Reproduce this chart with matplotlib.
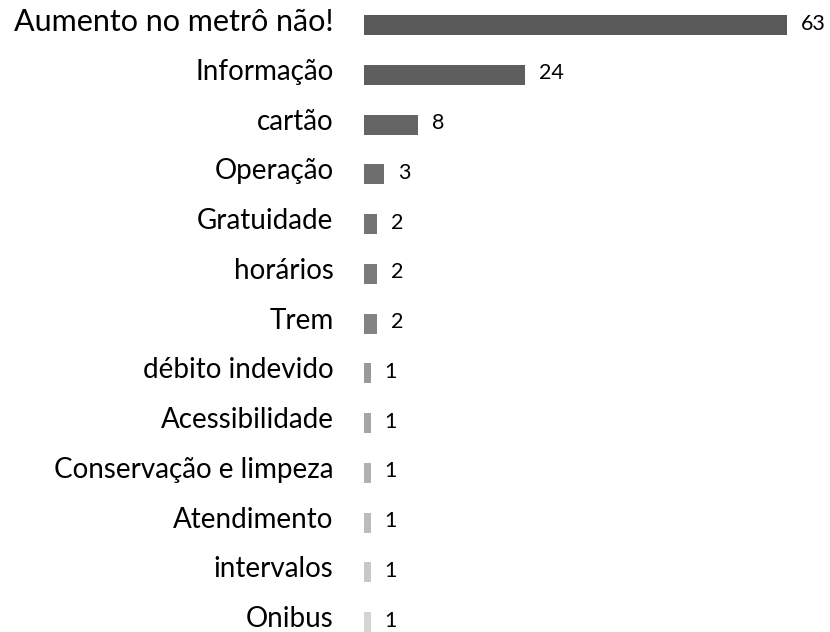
import matplotlib
matplotlib.use("Agg")
import matplotlib.pyplot as plt
from matplotlib.transforms import ScaledTranslation

categories = ["Aumento no metrô não!", "Informação", "cartão", "Operação",
              "Gratuidade", "horários", "Trem", "débito indevido",
              "Acessibilidade", "Conservação e limpeza", "Atendimento",
              "intervalos", "Onibus"]
counts = [63, 24, 8, 3, 2, 2, 2, 1, 1, 1, 1, 1, 1]
colors = ["#595959", "#5e5e5e", "#656565", "#6e6e6e", "#747474", "#7b7b7b",
          "#838383", "#999999", "#a5a5a5", "#b0b0b0", "#bcbcbc", "#c8c8c8",
          "#d4d4d4"]

plt.rcParams['font.family'] = ['Lato', 'DejaVu Sans']

fig = plt.figure(figsize=(8.3, 6.32), dpi=100)
W, H = 830, 632
row = 49.75
top_px = 25 - 0.3 * row
bot_px = 622 + 0.3 * row
ax = fig.add_axes([364 / W, 1 - bot_px / H, (W - 364) / W, (bot_px - top_px) / H])

ypos = list(range(len(categories)))
ax.barh(ypos, counts, height=20 / row, color=colors)
ax.set_ylim(12.3, -0.3)
ax.set_xlim(0, (W - 364) / (423 / 63))

for y, v in zip(ypos, counts):
    ax.annotate(str(v), (v, y), xytext=(10, 1), textcoords='offset points',
                va='center', ha='left', fontsize=15.5, color='black')

ax.set_yticks(ypos)
ax.set_yticklabels(categories, fontsize=20)
ax.tick_params(axis='y', length=0, pad=22)
ax.get_yticklabels()[0].set_fontsize(22)
lift = ScaledTranslation(0, 3 / 100, fig.dpi_scale_trans)
for lbl in ax.get_yticklabels():
    lbl.set_verticalalignment('center')
    lbl.set_transform(lbl.get_transform() + lift)
ax.set_xticks([])
for s in ax.spines.values():
    s.set_visible(False)

fig.savefig("out.png", dpi=100)
